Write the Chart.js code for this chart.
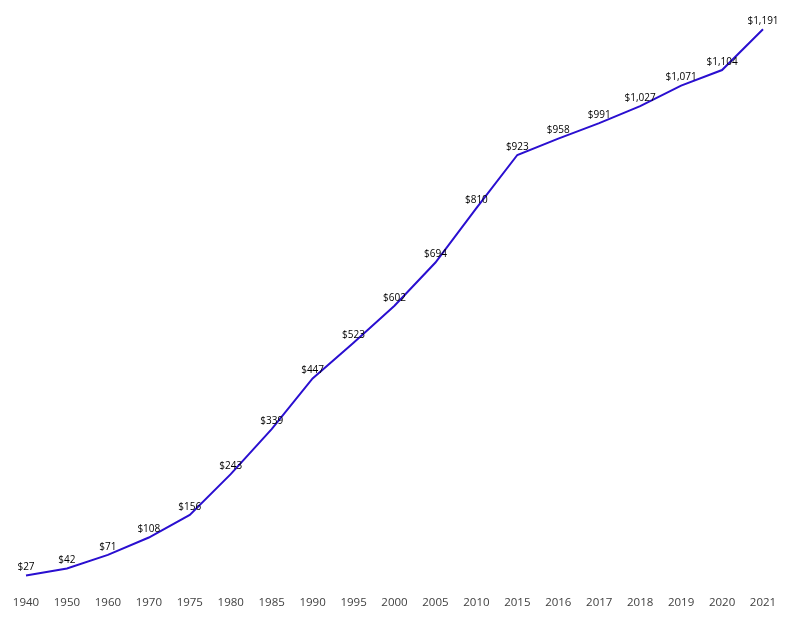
<!DOCTYPE html>
<html>
<head>
<meta charset="utf-8">
<script src="https://cdn.jsdelivr.net/npm/chart.js@4"></script>
<style>
  html, body { margin: 0; padding: 0; background: #fff; }
  #wrap { width: 800px; height: 635px; }
</style>
</head>
<body>
<div id="wrap"><canvas id="lineChart"></canvas></div>
<script>
const years = ["1940", "1950", "1960", "1970", "1975", "1980", "1985", "1990", "1995", "2000",
  "2005", "2010", "2015", "2016", "2017", "2018", "2019", "2020", "2021"];
const costs = [27, 42, 71, 108, 156, 243, 339, 447, 523, 602, 694, 810, 923, 958, 991, 1027, 1071, 1104, 1191];

const fmt = v => "$" + v.toLocaleString("en-US");

// dollar labels above each point
const pointLabels = {
  id: "pointLabels",
  afterDatasetsDraw(chart) {
    const c = chart.ctx;
    const meta = chart.getDatasetMeta(0);
    c.save();
    c.font = "10px 'Open Sans', sans-serif";
    c.fillStyle = "#000";
    c.textAlign = "center";
    c.textBaseline = "bottom";
    meta.data.forEach((pt, i) => {
      c.fillText(fmt(costs[i]), pt.x, pt.y - 3);
    });
    c.restore();
  }
};

const ctx = document.getElementById("lineChart");

new Chart(ctx, {
  type: "line",
  data: {
    labels: years,
    datasets: [
      {
        data: costs,
        borderColor: "#2a0fd0",
        borderWidth: 2,
        tension: 0,
        pointRadius: 0,
        fill: false,
      },
    ],
  },
  options: {
    responsive: true,
    maintainAspectRatio: false,
    animation: false,
    layout: {
      padding: { left: 26, right: 37, top: 25, bottom: 17 },
    },
    plugins: {
      legend: { display: false },
      tooltip: { enabled: false },
    },
    scales: {
      x: {
        offset: false,
        border: { display: false },
        grid: { display: false, drawTicks: false },
        ticks: {
          color: "#404040",
          padding: 8,
          maxRotation: 0,
          autoSkip: false,
          font: { family: "'Open Sans', sans-serif", size: 11.5 },
        },
      },
      y: {
        display: false,
        min: 0,
        max: 1200,
      },
    },
  },
  plugins: [pointLabels],
});
</script>
</body>
</html>
